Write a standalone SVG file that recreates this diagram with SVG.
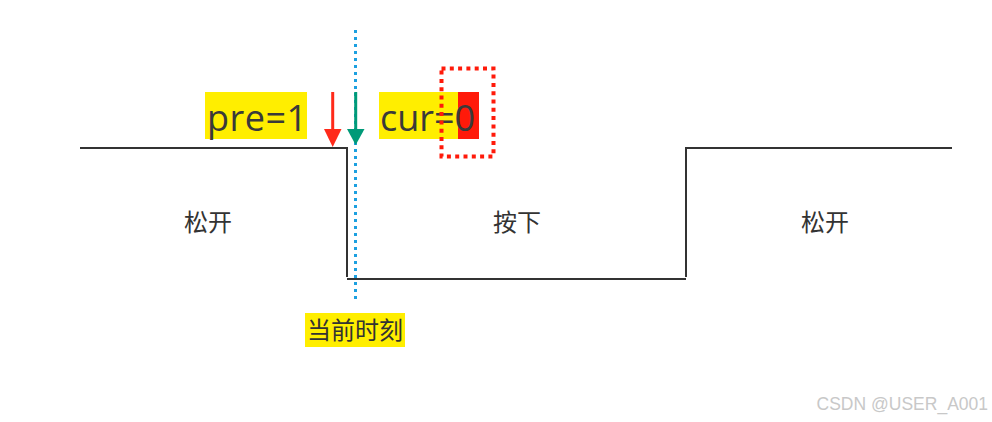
<svg xmlns="http://www.w3.org/2000/svg" width="992" height="422" viewBox="0 0 992 422">
<style>
.sig{fill:none;stroke:#333;stroke-width:2}
.big{font-family:"Open Sans","Noto Sans",sans-serif;font-size:36px;fill:#3a3a3a}
.cn{font-family:"Noto Sans CJK SC",sans-serif;font-size:24px;fill:#333;text-anchor:middle}
.hl{fill:#ffee00}
</style>
<rect width="992" height="422" fill="#fff"/>
<g id="connectors">
<path class="sig" d="M80,148 H347 V277"/>
<path class="sig" d="M347,279 H686"/>
<path class="sig" d="M686,277 V148 H952"/>
<line x1="355.5" y1="30" x2="355.5" y2="299" stroke="#1ca0e0" stroke-width="3" stroke-dasharray="3 4"/>
<line x1="332.7" y1="92" x2="332.7" y2="132" stroke="#ff2a1a" stroke-width="3"/>
<path d="M324,129 L341.5,129 L332.7,147 Z" fill="#ff2a1a"/>
<line x1="355.7" y1="92" x2="355.7" y2="132" stroke="#009a78" stroke-width="3"/>
<path d="M347,129 L364.5,129 L355.7,145 Z" fill="#009a78"/>
</g>
<g id="pre">
<rect class="hl" x="205" y="92" width="102" height="47"/>
<text class="big" x="207" y="131" letter-spacing="0.5">pre=1</text>
</g>
<g id="cur">
<rect class="hl" x="379" y="92" width="79" height="47"/>
<rect x="458" y="92" width="21" height="47" fill="#ff1a0a"/>
<text class="big" x="380" y="131">cur=0</text>
<rect x="441.5" y="68.5" width="52" height="88" fill="none" stroke="#ff1a0a" stroke-width="4" stroke-dasharray="4 4.3"/>
</g>
<g id="now">
<rect class="hl" x="305" y="313" width="100" height="34"/>
<text class="cn" x="355" y="339">当前时刻</text>
</g>
<g id="release1"><text class="cn" x="208" y="231">松开</text></g>
<g id="press"><text class="cn" x="517" y="231">按下</text></g>
<g id="release2"><text class="cn" x="825" y="231">松开</text></g>
<text x="988" y="410" text-anchor="end" font-family="Liberation Sans, Arial, sans-serif" font-size="17.5" fill="#c8c8c8">CSDN @USER_A001</text>
</svg>
